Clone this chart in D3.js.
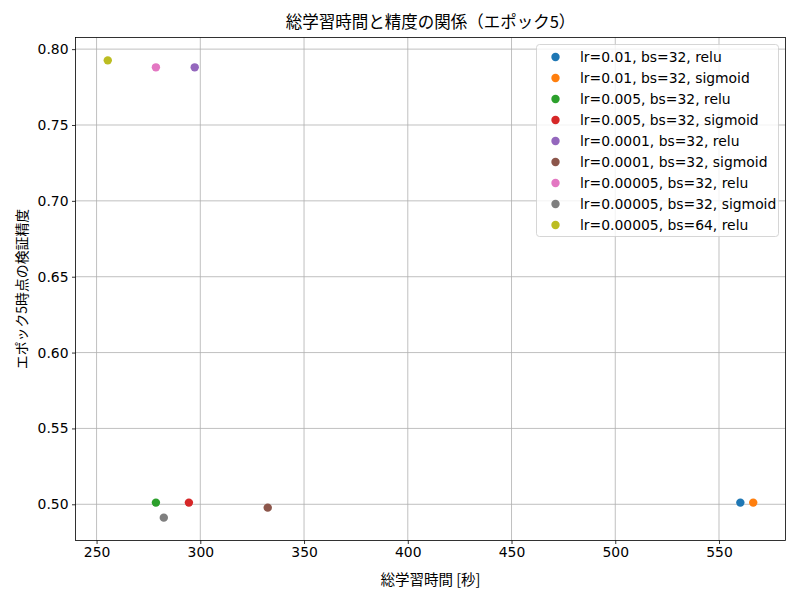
<!DOCTYPE html>
<html><head><meta charset="utf-8">
<script src="https://cdn.jsdelivr.net/npm/d3@7"></script>
<style>body{margin:0;background:#fff}</style>
</head><body>
<svg id="c" width="800" height="600"></svg>
<script>
const labels = ["lr=0.01, bs=32, relu","lr=0.01, bs=32, sigmoid","lr=0.005, bs=32, relu","lr=0.005, bs=32, sigmoid","lr=0.0001, bs=32, relu","lr=0.0001, bs=32, sigmoid","lr=0.00005, bs=32, relu","lr=0.00005, bs=32, sigmoid","lr=0.00005, bs=64, relu"];
const times = [560.3, 566.5, 278.6, 294.5, 297.3, 332.5, 278.6, 282.4, 255.4];
const accs = [0.5011, 0.5011, 0.5011, 0.5011, 0.788, 0.4978, 0.788, 0.4912, 0.7926];
const colors = ["#1f77b4","#ff7f0e","#2ca02c","#d62728","#9467bd","#8c564b","#e377c2","#7f7f7f","#bcbd22"];
const xTicks = [250,300,350,400,450,500,550];
const yTicks = [0.50,0.55,0.60,0.65,0.70,0.75,0.80];

const svg = d3.select("#c");
const L=75.5, R=785.5, T=37.5, B=540.5;
const xr=d3.extent(times), yr=d3.extent(accs);
const xm=(xr[1]-xr[0])*0.05, ym=(yr[1]-yr[0])*0.05;
const x=d3.scaleLinear().domain([xr[0]-xm,xr[1]+xm]).range([L,R]);
const y=d3.scaleLinear().domain([yr[0]-ym,yr[1]+ym]).range([B,T]);
const font="DejaVu Sans, sans-serif";
const jfont="'Noto Sans CJK JP', sans-serif";

// grid
svg.append("g").selectAll("line").data(xTicks).join("line")
 .attr("x1",d=>x(d)).attr("x2",d=>x(d)).attr("y1",T).attr("y2",B)
 .attr("stroke","#b0b0b0").attr("stroke-width",0.8);
svg.append("g").selectAll("line").data(yTicks).join("line")
 .attr("y1",d=>y(d)).attr("y2",d=>y(d)).attr("x1",L).attr("x2",R)
 .attr("stroke","#b0b0b0").attr("stroke-width",0.8);

// axes
const xa=svg.append("g").attr("transform",`translate(0,${B})`)
 .call(d3.axisBottom(x).tickValues(xTicks).tickSize(3.5).tickPadding(3.5).tickFormat(d3.format("d")));
const ya=svg.append("g").attr("transform",`translate(${L},0)`)
 .call(d3.axisLeft(y).tickValues(yTicks).tickSize(3.5).tickPadding(3.5).tickFormat(d3.format(".2f")));
[xa,ya].forEach(a=>{a.select(".domain").remove();a.selectAll("text").attr("font-family",font).attr("font-size",13.9).attr("fill","#000");a.selectAll("line").attr("stroke","#000").attr("stroke-width",0.8);});

svg.append("rect").attr("x",L).attr("y",T).attr("width",R-L).attr("height",B-T)
 .attr("fill","none").attr("stroke","#000").attr("stroke-width",0.8);

// points
svg.append("g").selectAll("circle").data(times).join("circle")
 .attr("cx",(d,i)=>x(d)).attr("cy",(d,i)=>y(accs[i])).attr("r",4.2)
 .attr("fill",(d,i)=>colors[i]);

// title and labels
svg.append("text").attr("x",(L+R)/2).attr("y",28).attr("text-anchor","middle")
 .attr("font-family",jfont).attr("font-size",16.5).text("総学習時間と精度の関係（エポック5）");
svg.append("text").attr("x",(L+R)/2).attr("y",585).attr("text-anchor","middle")
 .attr("font-family",jfont).attr("font-size",14.5).text("総学習時間 [秒]");
svg.append("text").attr("transform",`translate(27,${(T+B)/2}) rotate(-90)`).attr("text-anchor","middle")
 .attr("font-family",jfont).attr("font-size",13.9).text("エポック5時点の検証精度");

// legend
const lg=svg.append("g");
lg.append("rect").attr("x",536.5).attr("y",44.5).attr("width",242).attr("height",192).attr("rx",3)
 .attr("fill","#fff").attr("fill-opacity",0.8).attr("stroke","#ccc").attr("stroke-width",0.8);
const rows=lg.selectAll("g").data(labels).join("g")
 .attr("transform",(d,i)=>`translate(0,${57+i*21})`);
rows.append("circle").attr("cx",555.5).attr("cy",0).attr("r",4.2).attr("fill",(d,i)=>colors[i]);
rows.append("text").attr("x",580).attr("y",0).attr("dy","0.35em")
 .attr("font-family",font).attr("font-size",13.9).text(d=>d);
</script>
</body></html>
